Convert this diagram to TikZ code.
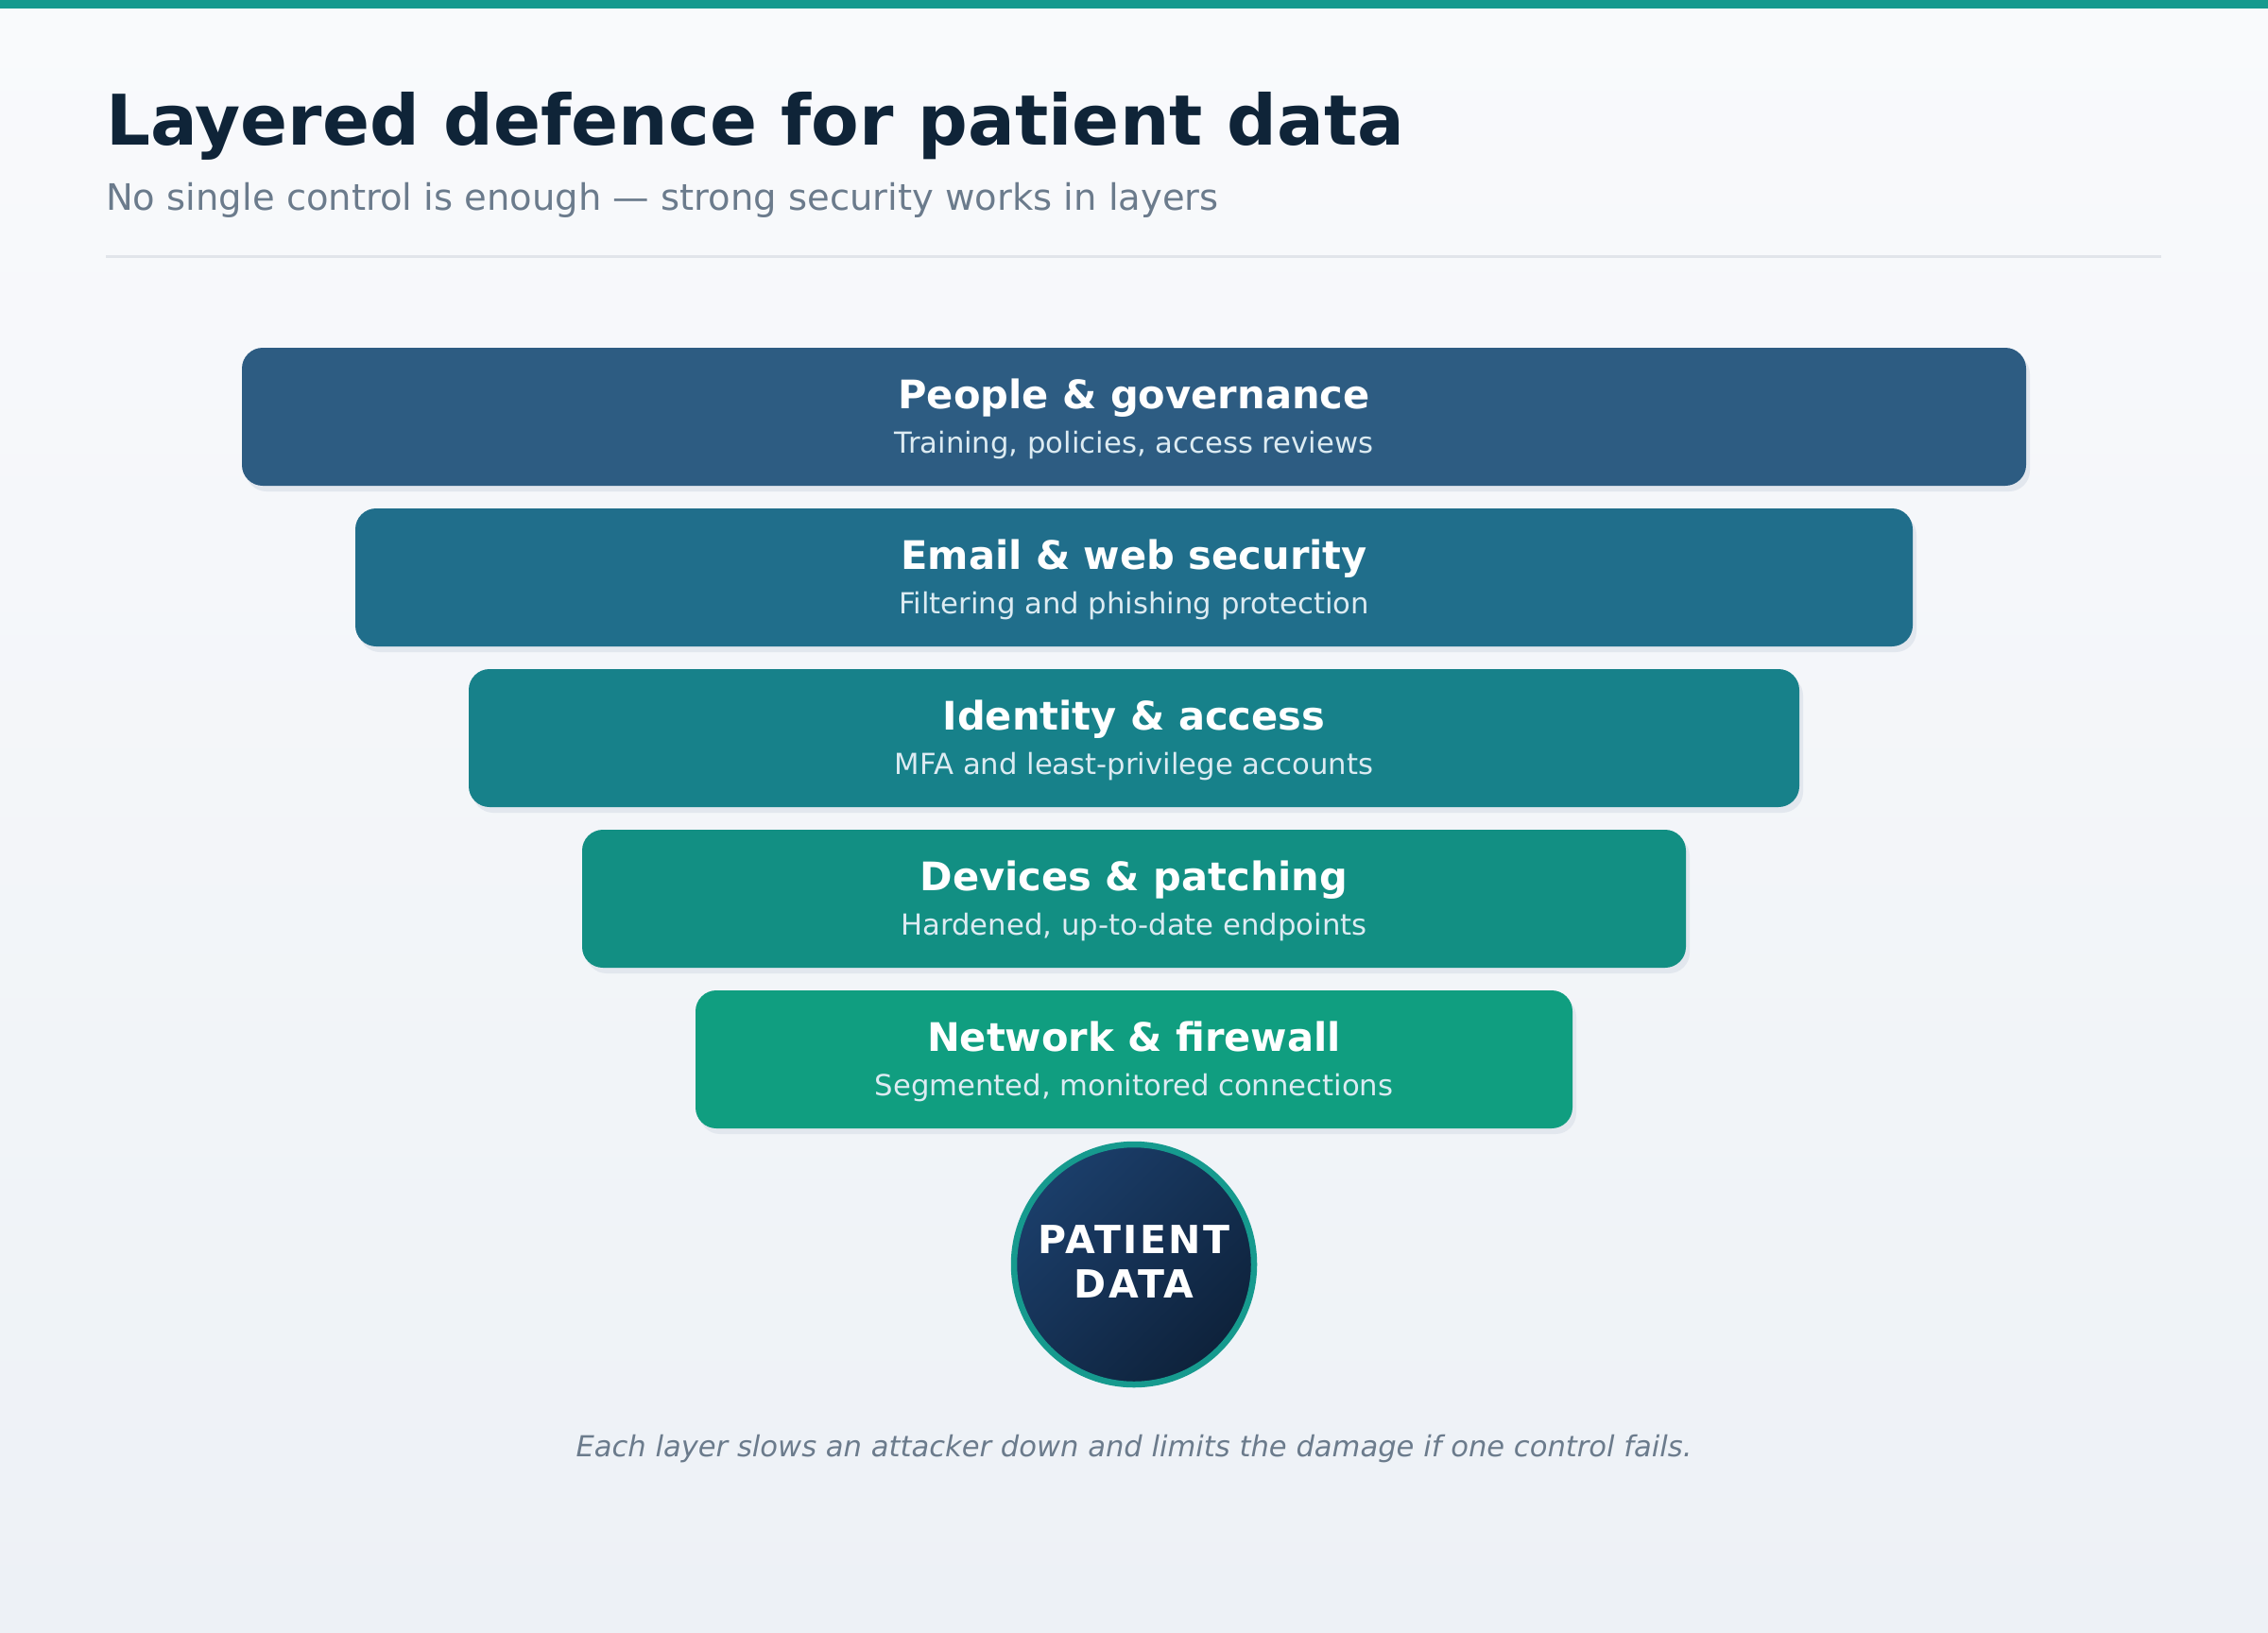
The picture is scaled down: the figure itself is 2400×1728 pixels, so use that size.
\documentclass[tikz,border=0pt]{standalone}
\usepackage{fontspec}
\setmainfont{DejaVu Sans}
\usetikzlibrary{shadows}
\definecolor{bgtop}{HTML}{F9FAFC}
\definecolor{bgbot}{HTML}{EDF1F6}
\definecolor{tealbar}{HTML}{169A8E}
\definecolor{titlec}{HTML}{0F2438}
\definecolor{mutedc}{HTML}{6B7B8C}
\definecolor{rulec}{HTML}{E1E5EA}
\definecolor{shadowc}{HTML}{E2E7EE}
\definecolor{cA}{HTML}{2D5C82}
\definecolor{cB}{HTML}{206E8B}
\definecolor{cC}{HTML}{17818A}
\definecolor{cD}{HTML}{128F83}
\definecolor{cE}{HTML}{109E80}
\definecolor{subc}{HTML}{DCEBF2}
\definecolor{coreA}{HTML}{1B3E6A}
\definecolor{coreB}{HTML}{0E223B}
\tikzset{
  layerbox/.style={rounded corners=22pt, draw=none, minimum height=146pt, inner sep=0pt,
    general shadow={fill=shadowc, shadow xshift=4pt, shadow yshift=-6pt}},
  ltitle/.style={anchor=base, text=white, inner sep=0pt, font=\fontsize{41.6}{49}\selectfont\bfseries},
  lsub/.style={anchor=base, text=subc, inner sep=0pt, font=\fontsize{30.7}{36}\selectfont},
  coretext/.style={anchor=base, text=white, inner sep=0pt, font=\fontsize{41}{48}\selectfont\bfseries\addfontfeatures{LetterSpace=6}},
}
\begin{document}
\begin{tikzpicture}[x=1pt,y=-1pt]
\useasboundingbox (0,0) rectangle (2400,1728);
\shade[top color=bgtop, bottom color=bgbot] (0,0) rectangle (2400,1728);
\fill[tealbar] (0,0) rectangle (2400,9);
\node[anchor=base west, inner sep=0pt, text=titlec, font=\fontsize{73.8}{88}\selectfont\bfseries] (title) at (112,154) {Layered defence for patient data};
\node[anchor=base west, inner sep=0pt, text=mutedc, font=\fontsize{38.5}{46}\selectfont] (subtitle) at (112,223) {No single control is enough — strong security works in layers};
\coordinate (ruleL) at (112,272);
\coordinate (ruleR) at (2287,272);
\draw[rulec, line width=3pt] (ruleL) -- (ruleR);

\node[layerbox, fill=cA, minimum width=1888pt] (L1) at (1200,441) {};
\node[ltitle] (L1t) at (1200,432) {People \& governance};
\node[lsub] (L1s) at (1200,479) {Training, policies, access reviews};

\node[layerbox, fill=cB, minimum width=1648pt] (L2) at (1200,611) {};
\node[ltitle] (L2t) at (1200,602) {Email \& web security};
\node[lsub] (L2s) at (1200,649) {Filtering and phishing protection};

\node[layerbox, fill=cC, minimum width=1408pt] (L3) at (1200,781) {};
\node[ltitle] (L3t) at (1200,772) {Identity \& access};
\node[lsub] (L3s) at (1200,819) {MFA and least-privilege accounts};

\node[layerbox, fill=cD, minimum width=1168pt] (L4) at (1200,951) {};
\node[ltitle] (L4t) at (1200,942) {Devices \& patching};
\node[lsub] (L4s) at (1200,989) {Hardened, up-to-date endpoints};

\node[layerbox, fill=cE, minimum width=928pt] (L5) at (1200,1121) {};
\node[ltitle] (L5t) at (1200,1112) {Network \& firewall};
\node[lsub] (L5s) at (1200,1159) {Segmented, monitored connections};

\node[circle, minimum size=254pt, inner sep=0pt, draw=tealbar, line width=6.5pt,
      top color=coreA, bottom color=coreB, shading angle=45] (core) at (1200,1338) {};
\node[coretext] (coreT1) at (1200,1326) {PATIENT};
\node[coretext] (coreT2) at (1200,1373) {DATA};

\node[anchor=base, inner sep=0pt, text=mutedc, font=\fontsize{30.6}{36}\selectfont\itshape] (foot) at (1200,1541) {Each layer slows an attacker down and limits the damage if one control fails.};
\end{tikzpicture}
\end{document}
